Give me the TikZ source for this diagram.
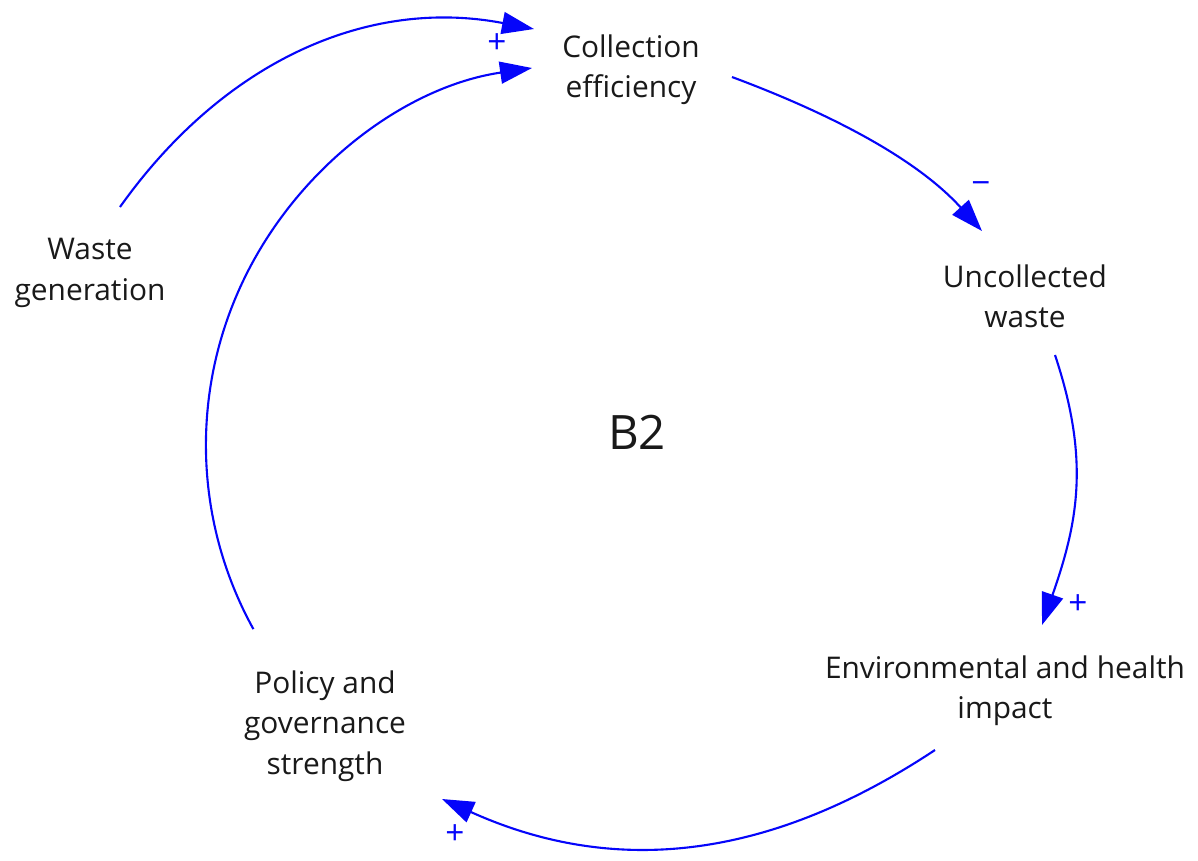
\documentclass[tikz,border=0pt]{standalone}
\usepackage{fontspec}
\setmainfont{Open Sans}
\usetikzlibrary{arrows.meta}
\definecolor{loopblue}{RGB}{5,5,250}
\begin{document}
\begin{tikzpicture}[x=0.02cm,y=-0.02cm,
  lbl/.style={align=center,font=\fontsize{17}{23}\selectfont,text=black!90,inner sep=0pt},
  big/.style={font=\fontsize{27}{32}\selectfont,text=black!90,inner sep=0pt},
  sgn/.style={font=\fontsize{19}{21}\selectfont,text=loopblue,inner sep=0pt},
  link/.style={draw=loopblue,line width=1.2pt,-{Triangle[length=0.64cm,width=0.44cm]}}]
\useasboundingbox (0,0) rectangle (1198,860);
\node[lbl] (ce) at (631,70) {Collection\\efficiency};
\node[lbl] (uw) at (1025,296) {Uncollected\\waste};
\node[lbl] (eh) at (1005,691) {Environmental and health\\impact};
\node[lbl] (pg) at (325,726) {Policy and\\governance\\strength};
\node[lbl] (wg) at (90,273) {Waste\\generation};
\node[big] (b2) at (637,432) {B2};
% links
\draw[link] ([shift={(30,-66)}]wg.center) .. controls (223,62) and (367,-3) .. ([shift={(-97,-41)}]ce.center);
\draw[link] ([shift={(-71.6,-96.9)}]pg.center) .. controls (192.9,519.6) and (190.1,387.7) .. (245.7,275.6) .. controls (301.3,163.5) and (408.2,86.1) .. ([shift={(-99,-2)}]ce.center);
\draw[link] ([shift={(101,7)}]ce.center) .. controls (826,112) and (915,157) .. ([shift={(-43,-65)}]uw.center);
\draw[link] ([shift={(30,59)}]uw.center) .. controls (1090,460) and (1078,522) .. ([shift={(37,-66)}]eh.center);
\draw[link] ([shift={(-70,59)}]eh.center) .. controls (769,860) and (615,877) .. ([shift={(117,73)}]pg.center);
% polarity signs
\node[sgn] (s1) at (497,44) {+};
\node[sgn] (s2) at (981,188) {\textminus};
\node[sgn] (s3) at (1078,605) {+};
\node[sgn] (s4) at (455,835) {+};
\end{tikzpicture}
\end{document}
